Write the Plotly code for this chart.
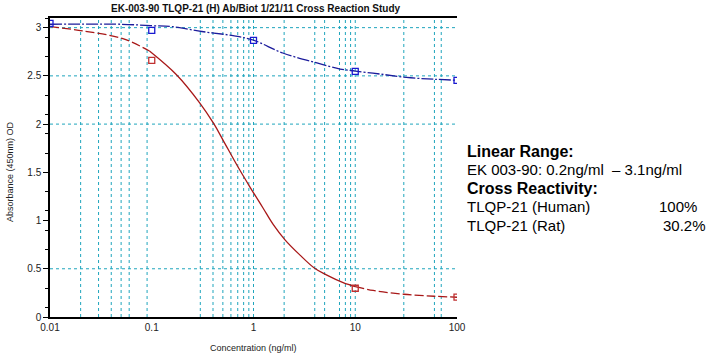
import plotly.graph_objects as go

# ---------------- data ----------------
title = "EK-003-90 TLQP-21 (H) Ab/Biot 1/21/11 Cross Reaction Study"

human_x = [0.01, 0.1, 1, 10, 100]
human_y = [3.045, 2.972, 2.868, 2.546, 2.453]

rat_x = [0.1, 10, 100]
rat_y = [2.66, 0.298, 0.207]

human_fit_x = [0.01, 0.05, 0.1, 0.16, 0.31, 0.63, 1.0, 1.94, 4.2, 7.1, 10, 17.5, 31.9, 60, 100]
human_fit_y = [3.035, 3.035, 3.02, 3.01, 2.96, 2.917, 2.87, 2.737, 2.634, 2.571, 2.55, 2.519, 2.484, 2.465, 2.455]

rat_fit_x = [0.01, 0.021, 0.052, 0.095, 0.175, 0.297, 0.407, 0.5, 0.7, 0.92, 1.24, 1.56, 2.04,
             2.85, 3.99, 5.2, 7.6, 10, 15, 30, 60, 100]
rat_fit_y = [3.01, 2.966, 2.886, 2.758, 2.512, 2.218, 2.004, 1.837, 1.56, 1.35, 1.13, 0.96, 0.80,
             0.644, 0.505, 0.436, 0.356, 0.315, 0.275, 0.236, 0.215, 0.205]

x_tick_vals = [0.01, 0.1, 1, 10, 100]
x_tick_text = ["0.01", "0.1", "1", "10", "100"]
y_tick_vals = [0, 0.5, 1, 1.5, 2, 2.5, 3]
y_tick_text = ["0", "0.5", "1", "1.5", "2", "2.5", "3"]

x_grid = [0.02, 0.03, 0.04, 0.05, 0.06, 0.09, 0.3, 0.4, 0.5, 0.6, 0.7, 0.8, 0.9, 1,
          2, 4, 5, 7, 8, 9, 10, 30, 60, 70]
y_grid = [0.5, 2, 2.5, 3]

info_lines = ["Linear Range:", "EK 003-90: 0.2ng/ml&nbsp;&nbsp;\u2013 3.1ng/ml", "Cross Reactivity:",
              "TLQP-21 (Human)", "TLQP-21 (Rat)"]
info_bold = [True, False, True, False, False]
reactivity = ["100%", "30.2%"]

# ---------------- layout helpers ----------------
W, H = 710, 362
L, T = 50, 18
R = 710 - 457
B = 362 - 317
pw, ph = W - L - R, H - T - B

def px_x(px):
    return (px - L) / pw

def px_y(py):
    return (H - B - py) / ph

blue_line = "#1c1c9c"
blue_mark = "#1a1ad0"
red_line = "#a81818"
red_mark = "#c03030"
grid_col = "#1fa5bd"
FONT = "Liberation Sans, Arial"

fig = go.Figure()

# rat fit: dashed at ends, solid in middle
left = [(x, y) for x, y in zip(rat_fit_x, rat_fit_y) if x <= 0.1]
mid = [(x, y) for x, y in zip(rat_fit_x, rat_fit_y) if 0.095 <= x <= 10]
right = [(x, y) for x, y in zip(rat_fit_x, rat_fit_y) if x >= 10]
for seg, dash in [(left, "9px,3px"), (mid, "solid"), (right, "9px,3px")]:
    fig.add_trace(go.Scatter(x=[p[0] for p in seg], y=[p[1] for p in seg], mode="lines",
                             line=dict(color=red_line, width=1.3, dash=dash, shape="spline"),
                             hoverinfo="skip", showlegend=False))

fig.add_trace(go.Scatter(x=human_fit_x, y=human_fit_y, mode="lines",
                         line=dict(color=blue_line, width=1.3, dash="12px,2px,2px,2px", shape="spline"),
                         hoverinfo="skip", showlegend=False))

fig.add_trace(go.Scatter(x=rat_x, y=rat_y, mode="markers",
                         marker=dict(symbol="square-open", size=6, color=red_mark, line=dict(width=1.3)),
                         showlegend=False))
fig.add_trace(go.Scatter(x=human_x, y=human_y, mode="markers",
                         marker=dict(symbol="square-open", size=6, color=blue_mark, line=dict(width=1.3)),
                         showlegend=False))

shapes = []
for gx in x_grid:
    shapes.append(dict(type="line", xref="x", yref="paper", x0=gx, x1=gx, y0=0, y1=1,
                       line=dict(color=grid_col, width=1, dash="dot"), layer="below"))
for gy in y_grid:
    shapes.append(dict(type="line", xref="paper", yref="y", x0=0, x1=1, y0=gy, y1=gy,
                       line=dict(color=grid_col, width=1, dash="dot"), layer="below"))

annotations = []
line_y = [151, 169.5, 188, 206.5, 225]
for txt, bold, py in zip(info_lines, info_bold, line_y):
    annotations.append(dict(xref="paper", yref="paper", x=px_x(465), y=px_y(py),
                            xanchor="left", yanchor="middle", showarrow=False,
                            text=f"<b>{txt}</b>" if bold else txt,
                            font=dict(family=FONT, size=16 if bold else 15, color="#000")))
for txt, px, py in zip(reactivity, [657, 661], line_y[3:]):
    annotations.append(dict(xref="paper", yref="paper", x=px_x(px), y=px_y(py),
                            xanchor="left", yanchor="middle", showarrow=False, text=txt,
                            font=dict(family=FONT, size=15, color="#000")))

annotations.append(dict(xref="paper", yref="paper", x=px_x(256), y=px_y(8.5), xanchor="center",
                        yanchor="middle", showarrow=False, text=f"<b>{title}</b>",
                        font=dict(family=FONT, size=10, color="#111")))
annotations.append(dict(xref="paper", yref="paper", x=px_x(253), y=px_y(348), xanchor="center",
                        yanchor="middle", showarrow=False, text="Concentration (ng/ml)",
                        font=dict(family=FONT, size=9, color="#222")))
annotations.append(dict(xref="paper", yref="paper", x=px_x(10), y=px_y(172), xanchor="center",
                        yanchor="middle", showarrow=False, text="Absorbance (450nm) OD", textangle=-90,
                        font=dict(family=FONT, size=9, color="#222")))

fig.update_layout(
    width=W, height=H, margin=dict(l=L, r=R, t=T, b=B),
    paper_bgcolor="white", plot_bgcolor="white",
    shapes=shapes, annotations=annotations,
    xaxis=dict(type="log", range=[-2, 2], tickvals=x_tick_vals, ticktext=x_tick_text,
               showgrid=False, zeroline=False, showline=True, linecolor="black", linewidth=1.5,
               mirror=True, ticks="", tickfont=dict(family=FONT, size=10, color="#222")),
    yaxis=dict(range=[0, 3.1], tickvals=y_tick_vals, ticktext=y_tick_text,
               showgrid=False, zeroline=False, showline=True, linecolor="black", linewidth=1.5,
               ticks="outside", ticklen=5, tickcolor="black",
               minor=dict(tick0=0.1, dtick=0.2, ticks="outside", ticklen=3, tickcolor="black", showgrid=False),
               tickfont=dict(family=FONT, size=10, color="#222")),
)

fig.write_html("out.html", config={"displayModeBar": False},
               post_script="document.body.style.margin='0';document.body.style.overflow='hidden';")
